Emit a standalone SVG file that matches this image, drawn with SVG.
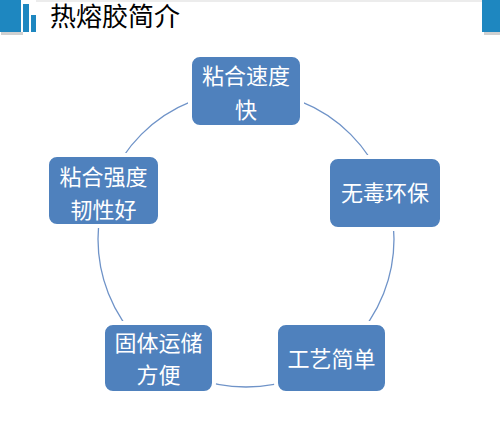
<svg xmlns="http://www.w3.org/2000/svg" width="500" height="423" viewBox="0 0 500 423">
<defs>
<style>
.hdr{fill:#1E87C0}
.shd{fill:#d0d0d0}
.node rect{fill:#4F81BD;stroke:#ffffff;stroke-width:4}
.node text{fill:#ffffff;font-family:"Microsoft YaHei","Noto Sans CJK SC",sans-serif;font-size:22px;text-anchor:middle}
.title{fill:#000000;font-family:"Microsoft YaHei","Noto Sans CJK SC",sans-serif;font-size:26px}
</style>
</defs>
<rect width="500" height="423" fill="#ffffff"/>
<g id="header">
<line x1="36" y1="1" x2="482" y2="1" stroke="#e6e6e6" stroke-width="1.5"/>
<rect class="shd" x="1" y="32" width="22" height="3"/>
<rect class="hdr" x="0" y="0" width="21" height="32"/>
<rect class="hdr" x="23" y="4" width="6" height="28"/>
<rect class="hdr" x="31" y="15" width="5" height="17"/>
<rect class="shd" x="484" y="32" width="16" height="3"/>
<rect class="hdr" x="482" y="0" width="18" height="32"/>
<text class="title" x="50" y="26">热熔胶简介</text>
</g>
<g id="connectors">
<circle cx="246" cy="239" r="148" fill="none" stroke="#6F93C8" stroke-width="1.3"/>
</g>
<g id="node1" class="node">
<rect x="190" y="55" width="112" height="72" rx="10"/>
<text x="246" y="84">粘合速度</text>
<text x="246" y="118">快</text>
</g>
<g id="node2" class="node">
<rect x="328" y="157" width="114" height="72" rx="10"/>
<text x="385" y="201">无毒环保</text>
</g>
<g id="node3" class="node">
<rect x="276" y="323" width="111" height="70" rx="10"/>
<text x="331.5" y="367">工艺简单</text>
</g>
<g id="node4" class="node">
<rect x="103" y="323" width="111" height="70" rx="10"/>
<text x="158.5" y="351">固体运储</text>
<text x="158.5" y="383">方便</text>
</g>
<g id="node5" class="node">
<rect x="47" y="155" width="113" height="71" rx="10"/>
<text x="103.5" y="185">粘合强度</text>
<text x="103.5" y="218">韧性好</text>
</g>
</svg>
